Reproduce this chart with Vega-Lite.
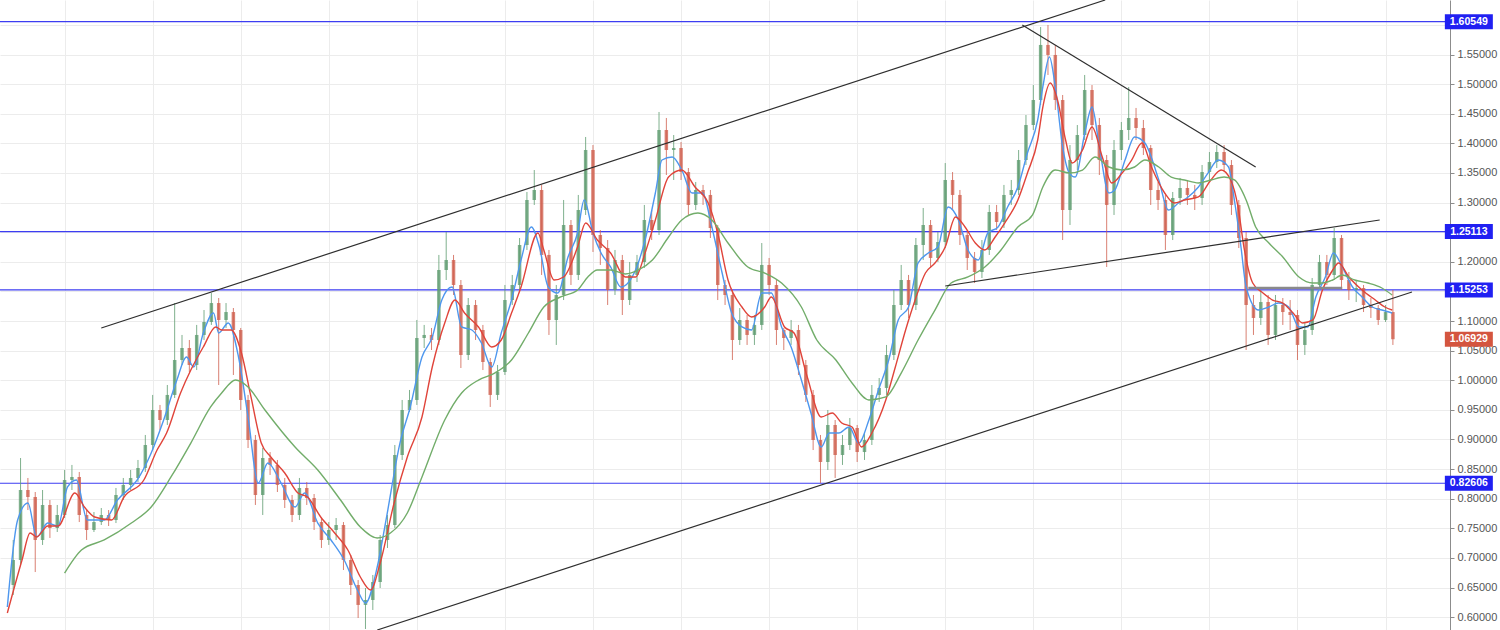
{
  "$schema": "https://vega.github.io/schema/vega-lite/v6.json",
  "width": 1450,
  "height": 630,
  "autosize": {"type": "none"},
  "padding": {"left": 0, "top": 0, "right": 50, "bottom": 0},
  "background": "white",
  "config": {
    "view": {"stroke": null},
    "font": "Liberation Sans",
    "axisX": {"labels": false, "ticks": false, "domain": false, "title": null, "grid": true, "gridColor": "#ececec"},
    "axisY": {"orient": "right", "title": null, "format": ".5f", "labelOverlap": false, "labelBound": false, "labelFlush": false,
              "grid": true, "gridColor": "#ececec", "domainColor": "#8c8c8c", "tickColor": "#8c8c8c", "tickSize": 4, "labelPadding": 3,
              "labelColor": "#555555", "labelFontSize": 11, "labelFont": "Liberation Sans"}
  },
  "resolve": {"scale": {"color": "independent"}},
  "datasets": {
    "k": [
      {"t":-7,"o":0.6543,"h":0.7303,"l":0.6374,"c":0.6965},
      {"t":-6,"o":0.6965,"h":0.8687,"l":0.6881,"c":0.8147},
      {"t":-5,"o":0.8147,"h":0.8350,"l":0.7809,"c":0.8029},
      {"t":-4,"o":0.8029,"h":0.8113,"l":0.6762,"c":0.7303},
      {"t":-3,"o":0.7303,"h":0.8147,"l":0.7219,"c":0.7894},
      {"t":-2,"o":0.7894,"h":0.7978,"l":0.7337,"c":0.7505},
      {"t":-1,"o":0.7505,"h":0.7894,"l":0.7438,"c":0.7725},
      {"t":0,"o":0.7725,"h":0.8485,"l":0.7674,"c":0.8316},
      {"t":1,"o":0.8316,"h":0.8570,"l":0.8147,"c":0.8367},
      {"t":2,"o":0.8367,"h":0.8451,"l":0.7606,"c":0.7725},
      {"t":3,"o":0.7725,"h":0.7809,"l":0.7303,"c":0.7472},
      {"t":4,"o":0.7472,"h":0.7775,"l":0.7438,"c":0.7606},
      {"t":5,"o":0.7606,"h":0.7843,"l":0.7556,"c":0.7725},
      {"t":6,"o":0.7725,"h":0.7809,"l":0.7539,"c":0.7640},
      {"t":7,"o":0.7640,"h":0.8181,"l":0.7589,"c":0.8063},
      {"t":8,"o":0.8063,"h":0.8350,"l":0.7978,"c":0.8232},
      {"t":9,"o":0.8232,"h":0.8485,"l":0.8147,"c":0.8350},
      {"t":10,"o":0.8350,"h":0.8654,"l":0.8282,"c":0.8519},
      {"t":11,"o":0.8519,"h":0.9076,"l":0.8451,"c":0.8907},
      {"t":12,"o":0.8907,"h":0.9752,"l":0.8822,"c":0.9498},
      {"t":13,"o":0.9498,"h":0.9583,"l":0.9160,"c":0.9329},
      {"t":14,"o":0.9329,"h":0.9920,"l":0.9245,"c":0.9752},
      {"t":15,"o":0.9752,"h":1.1304,"l":0.9701,"c":1.0342},
      {"t":16,"o":1.0342,"h":1.0765,"l":1.0258,"c":1.0545},
      {"t":17,"o":1.0545,"h":1.0680,"l":1.0139,"c":1.0258},
      {"t":18,"o":1.0258,"h":1.0934,"l":1.0173,"c":1.0765},
      {"t":19,"o":1.0765,"h":1.1186,"l":1.0680,"c":1.0984},
      {"t":20,"o":1.0984,"h":1.1473,"l":1.0934,"c":1.1304},
      {"t":21,"o":1.1304,"h":1.1389,"l":0.9920,"c":1.1018},
      {"t":22,"o":1.1018,"h":1.1304,"l":1.0883,"c":1.1152},
      {"t":23,"o":1.1152,"h":1.1220,"l":1.0089,"c":1.0849},
      {"t":24,"o":1.0849,"h":1.0883,"l":0.9498,"c":0.9667},
      {"t":25,"o":0.9667,"h":0.9752,"l":0.8856,"c":0.8991},
      {"t":26,"o":0.8991,"h":0.9076,"l":0.7894,"c":0.8063},
      {"t":27,"o":0.8063,"h":0.8856,"l":0.7725,"c":0.8687},
      {"t":28,"o":0.8687,"h":0.8788,"l":0.8401,"c":0.8570},
      {"t":29,"o":0.8570,"h":0.8654,"l":0.8113,"c":0.8232},
      {"t":30,"o":0.8232,"h":0.8350,"l":0.7843,"c":0.7978},
      {"t":31,"o":0.7978,"h":0.8063,"l":0.7606,"c":0.7725},
      {"t":32,"o":0.7725,"h":0.8350,"l":0.7640,"c":0.8181},
      {"t":33,"o":0.8181,"h":0.8282,"l":0.7894,"c":0.8012},
      {"t":34,"o":0.8012,"h":0.8079,"l":0.7472,"c":0.7606},
      {"t":35,"o":0.7606,"h":0.7674,"l":0.7168,"c":0.7303},
      {"t":36,"o":0.7303,"h":0.7606,"l":0.7219,"c":0.7472},
      {"t":37,"o":0.7472,"h":0.7674,"l":0.7303,"c":0.7556},
      {"t":38,"o":0.7556,"h":0.7606,"l":0.6796,"c":0.6965},
      {"t":39,"o":0.6965,"h":0.7050,"l":0.6374,"c":0.6543},
      {"t":40,"o":0.6543,"h":0.6627,"l":0.5986,"c":0.6206},
      {"t":41,"o":0.6206,"h":0.6492,"l":0.5800,"c":0.6290},
      {"t":42,"o":0.6290,"h":0.6712,"l":0.6121,"c":0.6593},
      {"t":43,"o":0.6593,"h":0.7387,"l":0.6492,"c":0.7303},
      {"t":44,"o":0.7303,"h":0.7725,"l":0.7168,"c":0.7556},
      {"t":45,"o":0.7556,"h":0.8907,"l":0.7505,"c":0.8738},
      {"t":46,"o":0.8738,"h":0.9667,"l":0.8654,"c":0.9498},
      {"t":47,"o":0.9498,"h":0.9836,"l":0.9464,"c":0.9667},
      {"t":48,"o":0.9667,"h":1.1018,"l":0.9583,"c":1.0714},
      {"t":49,"o":1.0714,"h":1.0934,"l":1.0545,"c":1.0765},
      {"t":50,"o":1.0765,"h":1.0883,"l":1.0511,"c":1.0680},
      {"t":51,"o":1.0680,"h":1.2116,"l":1.0596,"c":1.1862},
      {"t":52,"o":1.1862,"h":1.2503,"l":1.1693,"c":1.2031},
      {"t":53,"o":1.2031,"h":1.2116,"l":1.1440,"c":1.1609},
      {"t":54,"o":1.1609,"h":1.1693,"l":1.0207,"c":1.0427},
      {"t":55,"o":1.0427,"h":1.1389,"l":1.0342,"c":1.1271},
      {"t":56,"o":1.1271,"h":1.1355,"l":1.0680,"c":1.0849},
      {"t":57,"o":1.0849,"h":1.0934,"l":1.0173,"c":1.0308},
      {"t":58,"o":1.0308,"h":1.0376,"l":0.9549,"c":0.9752},
      {"t":59,"o":0.9752,"h":1.0258,"l":0.9667,"c":1.0139},
      {"t":60,"o":1.0139,"h":1.1609,"l":1.0089,"c":1.1355},
      {"t":61,"o":1.1355,"h":1.1778,"l":1.1271,"c":1.1609},
      {"t":62,"o":1.1609,"h":1.2402,"l":1.1524,"c":1.2284},
      {"t":63,"o":1.2284,"h":1.3179,"l":1.2200,"c":1.3044},
      {"t":64,"o":1.3044,"h":1.3550,"l":1.2960,"c":1.3213},
      {"t":65,"o":1.3213,"h":1.3298,"l":1.1778,"c":1.2116},
      {"t":66,"o":1.2116,"h":1.2200,"l":1.0765,"c":1.1018},
      {"t":67,"o":1.1018,"h":1.1609,"l":1.0596,"c":1.1440},
      {"t":68,"o":1.1440,"h":1.3044,"l":1.1355,"c":1.2622},
      {"t":69,"o":1.2622,"h":1.2706,"l":1.1609,"c":1.1778},
      {"t":70,"o":1.1778,"h":1.3129,"l":1.1693,"c":1.2875},
      {"t":71,"o":1.2875,"h":1.4108,"l":1.2791,"c":1.3888},
      {"t":72,"o":1.3888,"h":1.3972,"l":1.2166,"c":1.2453},
      {"t":73,"o":1.2453,"h":1.2537,"l":1.1947,"c":1.2233},
      {"t":74,"o":1.2233,"h":1.2368,"l":1.1271,"c":1.1524},
      {"t":75,"o":1.1524,"h":1.2200,"l":1.1440,"c":1.2031},
      {"t":76,"o":1.2031,"h":1.2116,"l":1.1102,"c":1.1355},
      {"t":77,"o":1.1355,"h":1.1997,"l":1.1271,"c":1.1778},
      {"t":78,"o":1.1778,"h":1.2116,"l":1.1659,"c":1.1997},
      {"t":79,"o":1.1997,"h":1.2960,"l":1.1896,"c":1.2706},
      {"t":80,"o":1.2706,"h":1.2875,"l":1.2368,"c":1.2537},
      {"t":81,"o":1.2537,"h":1.4530,"l":1.2453,"c":1.4226},
      {"t":82,"o":1.4226,"h":1.4429,"l":1.3466,"c":1.3888},
      {"t":83,"o":1.3888,"h":1.4141,"l":1.3382,"c":1.3922},
      {"t":84,"o":1.3922,"h":1.4023,"l":1.3382,"c":1.3516},
      {"t":85,"o":1.3516,"h":1.3584,"l":1.2791,"c":1.2960},
      {"t":86,"o":1.2960,"h":1.3348,"l":1.2875,"c":1.3213},
      {"t":87,"o":1.3213,"h":1.3298,"l":1.2960,"c":1.3129},
      {"t":88,"o":1.3129,"h":1.3213,"l":1.2402,"c":1.2571},
      {"t":89,"o":1.2571,"h":1.2622,"l":1.1355,"c":1.1609},
      {"t":90,"o":1.1609,"h":1.1693,"l":1.1271,"c":1.1440},
      {"t":91,"o":1.1440,"h":1.1524,"l":1.0342,"c":1.0680},
      {"t":92,"o":1.0680,"h":1.1220,"l":1.0596,"c":1.1018},
      {"t":93,"o":1.1018,"h":1.1102,"l":1.0596,"c":1.0765},
      {"t":94,"o":1.0765,"h":1.1102,"l":1.0596,"c":1.0934},
      {"t":95,"o":1.0934,"h":1.2317,"l":1.0849,"c":1.1947},
      {"t":96,"o":1.1947,"h":1.2065,"l":1.1440,"c":1.1609},
      {"t":97,"o":1.1609,"h":1.1693,"l":1.0596,"c":1.0849},
      {"t":98,"o":1.0849,"h":1.0883,"l":1.0511,"c":1.0714},
      {"t":99,"o":1.0714,"h":1.1018,"l":1.0596,"c":1.0849},
      {"t":100,"o":1.0849,"h":1.0934,"l":1.0089,"c":1.0258},
      {"t":101,"o":1.0258,"h":1.0342,"l":0.9633,"c":0.9752},
      {"t":102,"o":0.9752,"h":0.9836,"l":0.8822,"c":0.8991},
      {"t":103,"o":0.8991,"h":0.9076,"l":0.8265,"c":0.8620},
      {"t":104,"o":0.8620,"h":0.9498,"l":0.8485,"c":0.9245},
      {"t":105,"o":0.9245,"h":0.9329,"l":0.8350,"c":0.8738},
      {"t":106,"o":0.8738,"h":0.9076,"l":0.8570,"c":0.8907},
      {"t":107,"o":0.8907,"h":0.9363,"l":0.8822,"c":0.9194},
      {"t":108,"o":0.9194,"h":0.9245,"l":0.8620,"c":0.8788},
      {"t":109,"o":0.8788,"h":0.9126,"l":0.8654,"c":0.8991},
      {"t":110,"o":0.8991,"h":0.9920,"l":0.8907,"c":0.9752},
      {"t":111,"o":0.9752,"h":1.0038,"l":0.9633,"c":0.9870},
      {"t":112,"o":0.9870,"h":1.0596,"l":0.9752,"c":1.0427},
      {"t":113,"o":1.0427,"h":1.1524,"l":1.0342,"c":1.1271},
      {"t":114,"o":1.1271,"h":1.1947,"l":1.1186,"c":1.1693},
      {"t":115,"o":1.1693,"h":1.1778,"l":1.1052,"c":1.1271},
      {"t":116,"o":1.1271,"h":1.2402,"l":1.1186,"c":1.2284},
      {"t":117,"o":1.2284,"h":1.2909,"l":1.2031,"c":1.2622},
      {"t":118,"o":1.2622,"h":1.2706,"l":1.1896,"c":1.2065},
      {"t":119,"o":1.2065,"h":1.2503,"l":1.1997,"c":1.2334},
      {"t":120,"o":1.2334,"h":1.3668,"l":1.2233,"c":1.3382},
      {"t":121,"o":1.3382,"h":1.3516,"l":1.2875,"c":1.3129},
      {"t":122,"o":1.3129,"h":1.3213,"l":1.2284,"c":1.2453},
      {"t":123,"o":1.2453,"h":1.2537,"l":1.1862,"c":1.2065},
      {"t":124,"o":1.2065,"h":1.2166,"l":1.1642,"c":1.1828},
      {"t":125,"o":1.1828,"h":1.2368,"l":1.1727,"c":1.2200},
      {"t":126,"o":1.2200,"h":1.2960,"l":1.2116,"c":1.2841},
      {"t":127,"o":1.2841,"h":1.2960,"l":1.2537,"c":1.2672},
      {"t":128,"o":1.2672,"h":1.3298,"l":1.2571,"c":1.3129},
      {"t":129,"o":1.3129,"h":1.3382,"l":1.2960,"c":1.3213},
      {"t":130,"o":1.3213,"h":1.3888,"l":1.3129,"c":1.3719},
      {"t":131,"o":1.3719,"h":1.4479,"l":1.3635,"c":1.4310},
      {"t":132,"o":1.4310,"h":1.4985,"l":1.4226,"c":1.4732},
      {"t":133,"o":1.4732,"h":1.5965,"l":1.4648,"c":1.5662},
      {"t":134,"o":1.5662,"h":1.5999,"l":1.5155,"c":1.5493},
      {"t":135,"o":1.5493,"h":1.5662,"l":1.4564,"c":1.4732},
      {"t":136,"o":1.4732,"h":1.4817,"l":1.2368,"c":1.2875},
      {"t":137,"o":1.2875,"h":1.3972,"l":1.2622,"c":1.3719},
      {"t":138,"o":1.3719,"h":1.4310,"l":1.3550,"c":1.4141},
      {"t":139,"o":1.4141,"h":1.5155,"l":1.4057,"c":1.4901},
      {"t":140,"o":1.4901,"h":1.4985,"l":1.4057,"c":1.4310},
      {"t":141,"o":1.4310,"h":1.4429,"l":1.3466,"c":1.3719},
      {"t":142,"o":1.3719,"h":1.3804,"l":1.1913,"c":1.2960},
      {"t":143,"o":1.2960,"h":1.4057,"l":1.2791,"c":1.3888},
      {"t":144,"o":1.3888,"h":1.4361,"l":1.3719,"c":1.4226},
      {"t":145,"o":1.4226,"h":1.4952,"l":1.4057,"c":1.4429},
      {"t":146,"o":1.4429,"h":1.4598,"l":1.4057,"c":1.4260},
      {"t":147,"o":1.4260,"h":1.4395,"l":1.3804,"c":1.3922},
      {"t":148,"o":1.3922,"h":1.3972,"l":1.2960,"c":1.3213},
      {"t":149,"o":1.3213,"h":1.3348,"l":1.2875,"c":1.3044},
      {"t":150,"o":1.3044,"h":1.3129,"l":1.2200,"c":1.2453},
      {"t":151,"o":1.2453,"h":1.3179,"l":1.2368,"c":1.3078},
      {"t":152,"o":1.3078,"h":1.3416,"l":1.2960,"c":1.3247},
      {"t":153,"o":1.3247,"h":1.3382,"l":1.2960,"c":1.3129},
      {"t":154,"o":1.3129,"h":1.3298,"l":1.2875,"c":1.3078},
      {"t":155,"o":1.3078,"h":1.3635,"l":1.2960,"c":1.3516},
      {"t":156,"o":1.3516,"h":1.3854,"l":1.3382,"c":1.3685},
      {"t":157,"o":1.3685,"h":1.3972,"l":1.3584,"c":1.3854},
      {"t":158,"o":1.3854,"h":1.3972,"l":1.3516,"c":1.3635},
      {"t":159,"o":1.3635,"h":1.3719,"l":1.2791,"c":1.2960},
      {"t":160,"o":1.2960,"h":1.3044,"l":1.2233,"c":1.2402},
      {"t":161,"o":1.2402,"h":1.2503,"l":1.0511,"c":1.1271},
      {"t":162,"o":1.1271,"h":1.1440,"l":1.0765,"c":1.1052},
      {"t":163,"o":1.1052,"h":1.1524,"l":1.0934,"c":1.1321},
      {"t":164,"o":1.1321,"h":1.1440,"l":1.0596,"c":1.0765},
      {"t":165,"o":1.0765,"h":1.1440,"l":1.0680,"c":1.1271},
      {"t":166,"o":1.1271,"h":1.1389,"l":1.0934,"c":1.1152},
      {"t":167,"o":1.1152,"h":1.1355,"l":1.0849,"c":1.1102},
      {"t":168,"o":1.1102,"h":1.1186,"l":1.0342,"c":1.0596},
      {"t":169,"o":1.0596,"h":1.0984,"l":1.0427,"c":1.0849},
      {"t":170,"o":1.0849,"h":1.1727,"l":1.0765,"c":1.1609},
      {"t":171,"o":1.1609,"h":1.2116,"l":1.1524,"c":1.1997},
      {"t":172,"o":1.1997,"h":1.2116,"l":1.1609,"c":1.1778},
      {"t":173,"o":1.1778,"h":1.2571,"l":1.1693,"c":1.2402},
      {"t":174,"o":1.2402,"h":1.2453,"l":1.1524,"c":1.1693},
      {"t":175,"o":1.1693,"h":1.1828,"l":1.1355,"c":1.1524},
      {"t":176,"o":1.1524,"h":1.1693,"l":1.1321,"c":1.1558},
      {"t":177,"o":1.1558,"h":1.1609,"l":1.1152,"c":1.1271},
      {"t":178,"o":1.1271,"h":1.1389,"l":1.1052,"c":1.1220},
      {"t":179,"o":1.1220,"h":1.1271,"l":1.0934,"c":1.1018},
      {"t":180,"o":1.1018,"h":1.1271,"l":1.0984,"c":1.1152},
      {"t":181,"o":1.1152,"h":1.1524,"l":1.0596,"c":1.0693}
    ],
    "m": [
      {"s":"b","t":-7.8,"v":0.6172},{"s":"b","t":-6.4,"v":0.7640},{"s":"b","t":-5.0,"v":0.7927},{"s":"b","t":-3.8,"v":0.7354},{"s":"b","t":-2.3,"v":0.7589},{"s":"b","t":-0.9,"v":0.7539},{"s":"b","t":0.4,"v":0.8198},{"s":"b","t":1.6,"v":0.8316},{"s":"b","t":3.1,"v":0.7640},{"s":"b","t":5.4,"v":0.7640},{"s":"b","t":7.2,"v":0.7978},{"s":"b","t":9.9,"v":0.8316},{"s":"b","t":11.8,"v":0.8771},{"s":"b","t":13.5,"v":0.9329},{"s":"b","t":15.3,"v":1.0004},{"s":"b","t":16.6,"v":1.0393},{"s":"b","t":17.6,"v":1.0224},{"s":"b","t":18.9,"v":1.0798},{"s":"b","t":20.3,"v":1.1135},{"s":"b","t":21.0,"v":1.0798},{"s":"b","t":22.3,"v":1.0967},{"s":"b","t":23.7,"v":1.0393},{"s":"b","t":25.0,"v":0.9380},{"s":"b","t":26.4,"v":0.8265},{"s":"b","t":27.7,"v":0.8603},{"s":"b","t":29.5,"v":0.8265},{"s":"b","t":31.4,"v":0.7860},{"s":"b","t":32.7,"v":0.8096},{"s":"b","t":34.5,"v":0.7589},{"s":"b","t":36.3,"v":0.7303},{"s":"b","t":38.1,"v":0.6965},{"s":"b","t":39.9,"v":0.6458},{"s":"b","t":41.0,"v":0.6239},{"s":"b","t":42.6,"v":0.6847},{"s":"b","t":43.8,"v":0.7640},{"s":"b","t":45.7,"v":0.8940},{"s":"b","t":47.1,"v":0.9549},{"s":"b","t":48.7,"v":1.0393},{"s":"b","t":50.1,"v":1.0731},{"s":"b","t":51.4,"v":1.1355},{"s":"b","t":52.8,"v":1.1575},{"s":"b","t":54.1,"v":1.0900},{"s":"b","t":55.5,"v":1.0849},{"s":"b","t":56.8,"v":1.0629},{"s":"b","t":58.2,"v":1.0224},{"s":"b","t":59.5,"v":1.0798},{"s":"b","t":60.9,"v":1.1355},{"s":"b","t":62.2,"v":1.2031},{"s":"b","t":63.6,"v":1.2588},{"s":"b","t":64.7,"v":1.2250},{"s":"b","t":65.9,"v":1.1575},{"s":"b","t":67.2,"v":1.1473},{"s":"b","t":68.6,"v":1.2082},{"s":"b","t":69.9,"v":1.2486},{"s":"b","t":70.8,"v":1.3044},{"s":"b","t":72.0,"v":1.2486},{"s":"b","t":73.1,"v":1.2149},{"s":"b","t":74.4,"v":1.1913},{"s":"b","t":75.8,"v":1.1575},{"s":"b","t":77.8,"v":1.1862},{"s":"b","t":79.1,"v":1.2368},{"s":"b","t":80.5,"v":1.3162},{"s":"b","t":81.4,"v":1.3719},{"s":"b","t":82.8,"v":1.3770},{"s":"b","t":84.1,"v":1.3550},{"s":"b","t":85.5,"v":1.3162},{"s":"b","t":86.9,"v":1.3162},{"s":"b","t":88.2,"v":1.2588},{"s":"b","t":89.6,"v":1.1811},{"s":"b","t":90.9,"v":1.1135},{"s":"b","t":92.3,"v":1.0900},{"s":"b","t":93.6,"v":1.0849},{"s":"b","t":95.0,"v":1.1473},{"s":"b","t":96.3,"v":1.1473},{"s":"b","t":97.7,"v":1.0900},{"s":"b","t":99.0,"v":1.0562},{"s":"b","t":100.4,"v":1.0004},{"s":"b","t":101.7,"v":0.9447},{"s":"b","t":103.1,"v":0.8873},{"s":"b","t":104.2,"v":0.9109},{"s":"b","t":105.5,"v":0.9109},{"s":"b","t":106.9,"v":0.9211},{"s":"b","t":108.2,"v":0.8940},{"s":"b","t":109.6,"v":0.9329},{"s":"b","t":110.9,"v":0.9836},{"s":"b","t":112.3,"v":1.0342},{"s":"b","t":113.6,"v":1.1018},{"s":"b","t":115.0,"v":1.1237},{"s":"b","t":116.3,"v":1.1980},{"s":"b","t":117.7,"v":1.2149},{"s":"b","t":119.0,"v":1.2250},{"s":"b","t":120.4,"v":1.2926},{"s":"b","t":121.8,"v":1.2706},{"s":"b","t":123.1,"v":1.2200},{"s":"b","t":124.5,"v":1.2031},{"s":"b","t":125.8,"v":1.2486},{"s":"b","t":127.2,"v":1.2588},{"s":"b","t":128.5,"v":1.2926},{"s":"b","t":129.9,"v":1.3264},{"s":"b","t":131.2,"v":1.3837},{"s":"b","t":132.6,"v":1.4395},{"s":"b","t":133.3,"v":1.4952},{"s":"b","t":134.2,"v":1.5459},{"s":"b","t":135.0,"v":1.4952},{"s":"b","t":136.0,"v":1.3939},{"s":"b","t":136.9,"v":1.3499},{"s":"b","t":137.7,"v":1.3432},{"s":"b","t":139.1,"v":1.4226},{"s":"b","t":140.0,"v":1.4614},{"s":"b","t":141.0,"v":1.3939},{"s":"b","t":142.3,"v":1.3162},{"s":"b","t":143.1,"v":1.3213},{"s":"b","t":144.5,"v":1.3719},{"s":"b","t":145.8,"v":1.4108},{"s":"b","t":147.2,"v":1.4006},{"s":"b","t":149.1,"v":1.3382},{"s":"b","t":150.4,"v":1.2875},{"s":"b","t":151.8,"v":1.2993},{"s":"b","t":153.1,"v":1.3095},{"s":"b","t":154.5,"v":1.3264},{"s":"b","t":155.8,"v":1.3499},{"s":"b","t":157.2,"v":1.3719},{"s":"b","t":158.6,"v":1.3601},{"s":"b","t":159.4,"v":1.3044},{"s":"b","t":160.3,"v":1.2250},{"s":"b","t":161.0,"v":1.1575},{"s":"b","t":162.7,"v":1.1186},{"s":"b","t":164.1,"v":1.1237},{"s":"b","t":165.4,"v":1.1304},{"s":"b","t":166.8,"v":1.1237},{"s":"b","t":168.2,"v":1.0900},{"s":"b","t":169.4,"v":1.0900},{"s":"b","t":170.5,"v":1.1406},{"s":"b","t":171.8,"v":1.1744},{"s":"b","t":172.9,"v":1.2149},{"s":"b","t":174.1,"v":1.1913},{"s":"b","t":175.5,"v":1.1575},{"s":"b","t":176.8,"v":1.1406},{"s":"b","t":178.2,"v":1.1237},{"s":"b","t":179.5,"v":1.1186},{"s":"b","t":180.9,"v":1.1135},
      {"s":"r","t":-7.8,"v":0.6070},{"s":"r","t":-5.8,"v":0.6965},{"s":"r","t":-4.7,"v":0.7421},{"s":"r","t":-3.8,"v":0.7354},{"s":"r","t":-2.3,"v":0.7539},{"s":"r","t":-0.9,"v":0.7539},{"s":"r","t":1.4,"v":0.8096},{"s":"r","t":2.7,"v":0.7860},{"s":"r","t":4.1,"v":0.7691},{"s":"r","t":6.4,"v":0.7640},{"s":"r","t":8.1,"v":0.8029},{"s":"r","t":10.8,"v":0.8316},{"s":"r","t":12.6,"v":0.8822},{"s":"r","t":13.9,"v":0.9109},{"s":"r","t":15.8,"v":0.9785},{"s":"r","t":17.2,"v":1.0173},{"s":"r","t":18.9,"v":1.0562},{"s":"r","t":20.6,"v":1.0900},{"s":"r","t":21.4,"v":1.0849},{"s":"r","t":22.7,"v":1.0849},{"s":"r","t":24.1,"v":1.0460},{"s":"r","t":25.4,"v":0.9718},{"s":"r","t":26.8,"v":0.8940},{"s":"r","t":28.1,"v":0.8704},{"s":"r","t":30.0,"v":0.8434},{"s":"r","t":31.8,"v":0.8096},{"s":"r","t":33.1,"v":0.8029},{"s":"r","t":34.9,"v":0.7691},{"s":"r","t":36.8,"v":0.7421},{"s":"r","t":38.6,"v":0.7134},{"s":"r","t":40.3,"v":0.6678},{"s":"r","t":41.7,"v":0.6458},{"s":"r","t":43.0,"v":0.6914},{"s":"r","t":44.9,"v":0.7927},{"s":"r","t":46.7,"v":0.8704},{"s":"r","t":48.7,"v":0.9380},{"s":"r","t":50.1,"v":1.0224},{"s":"r","t":51.8,"v":1.0967},{"s":"r","t":53.2,"v":1.1355},{"s":"r","t":54.5,"v":1.1135},{"s":"r","t":56.4,"v":1.0900},{"s":"r","t":58.2,"v":1.0562},{"s":"r","t":59.5,"v":1.0680},{"s":"r","t":60.9,"v":1.1135},{"s":"r","t":62.2,"v":1.1575},{"s":"r","t":64.5,"v":1.2486},{"s":"r","t":65.3,"v":1.2200},{"s":"r","t":66.7,"v":1.1693},{"s":"r","t":68.0,"v":1.1744},{"s":"r","t":69.9,"v":1.2250},{"s":"r","t":71.0,"v":1.2655},{"s":"r","t":72.6,"v":1.2368},{"s":"r","t":74.4,"v":1.2149},{"s":"r","t":76.4,"v":1.1744},{"s":"r","t":77.8,"v":1.1744},{"s":"r","t":79.1,"v":1.2149},{"s":"r","t":80.5,"v":1.2706},{"s":"r","t":82.3,"v":1.3432},{"s":"r","t":84.1,"v":1.3550},{"s":"r","t":85.9,"v":1.3264},{"s":"r","t":87.7,"v":1.2993},{"s":"r","t":89.0,"v":1.2486},{"s":"r","t":90.4,"v":1.1693},{"s":"r","t":92.3,"v":1.1237},{"s":"r","t":93.6,"v":1.1068},{"s":"r","t":95.4,"v":1.1237},{"s":"r","t":96.3,"v":1.1406},{"s":"r","t":98.1,"v":1.0900},{"s":"r","t":99.4,"v":1.0798},{"s":"r","t":101.2,"v":1.0055},{"s":"r","t":103.1,"v":0.9380},{"s":"r","t":104.6,"v":0.9447},{"s":"r","t":105.9,"v":0.9278},{"s":"r","t":107.3,"v":0.9211},{"s":"r","t":108.6,"v":0.8873},{"s":"r","t":110.0,"v":0.9109},{"s":"r","t":111.9,"v":0.9667},{"s":"r","t":113.2,"v":1.0224},{"s":"r","t":114.6,"v":1.0849},{"s":"r","t":115.9,"v":1.1355},{"s":"r","t":117.3,"v":1.1811},{"s":"r","t":118.6,"v":1.1980},{"s":"r","t":120.0,"v":1.2250},{"s":"r","t":121.4,"v":1.2757},{"s":"r","t":122.7,"v":1.2588},{"s":"r","t":124.1,"v":1.2318},{"s":"r","t":125.4,"v":1.2200},{"s":"r","t":126.8,"v":1.2419},{"s":"r","t":128.1,"v":1.2655},{"s":"r","t":129.9,"v":1.3044},{"s":"r","t":131.2,"v":1.3499},{"s":"r","t":132.6,"v":1.4057},{"s":"r","t":133.3,"v":1.4614},{"s":"r","t":134.3,"v":1.5019},{"s":"r","t":135.3,"v":1.4732},{"s":"r","t":136.4,"v":1.4057},{"s":"r","t":137.3,"v":1.3668},{"s":"r","t":138.7,"v":1.3888},{"s":"r","t":140.0,"v":1.4277},{"s":"r","t":141.4,"v":1.3770},{"s":"r","t":142.7,"v":1.3331},{"s":"r","t":144.1,"v":1.3499},{"s":"r","t":145.4,"v":1.3719},{"s":"r","t":146.8,"v":1.4006},{"s":"r","t":148.1,"v":1.3601},{"s":"r","t":149.9,"v":1.3162},{"s":"r","t":151.2,"v":1.2993},{"s":"r","t":152.6,"v":1.3044},{"s":"r","t":154.5,"v":1.3095},{"s":"r","t":156.2,"v":1.3382},{"s":"r","t":157.6,"v":1.3550},{"s":"r","t":158.9,"v":1.3382},{"s":"r","t":159.9,"v":1.2926},{"s":"r","t":160.7,"v":1.2250},{"s":"r","t":161.9,"v":1.1642},{"s":"r","t":163.3,"v":1.1473},{"s":"r","t":164.6,"v":1.1355},{"s":"r","t":166.0,"v":1.1304},{"s":"r","t":167.4,"v":1.1135},{"s":"r","t":168.7,"v":1.0967},{"s":"r","t":170.1,"v":1.1018},{"s":"r","t":171.4,"v":1.1524},{"s":"r","t":172.8,"v":1.1862},{"s":"r","t":173.6,"v":1.1980},{"s":"r","t":175.0,"v":1.1744},{"s":"r","t":176.8,"v":1.1524},{"s":"r","t":178.6,"v":1.1355},{"s":"r","t":179.9,"v":1.1237},{"s":"r","t":180.9,"v":1.1186},
      {"s":"g","t":0.0,"v":0.6744},{"s":"g","t":2.3,"v":0.7134},{"s":"g","t":5.4,"v":0.7303},{"s":"g","t":9.1,"v":0.7589},{"s":"g","t":11.8,"v":0.7860},{"s":"g","t":14.5,"v":0.8367},{"s":"g","t":17.2,"v":0.8940},{"s":"g","t":19.9,"v":0.9549},{"s":"g","t":21.4,"v":0.9785},{"s":"g","t":23.3,"v":1.0004},{"s":"g","t":25.0,"v":0.9886},{"s":"g","t":27.3,"v":0.9498},{"s":"g","t":31.4,"v":0.8873},{"s":"g","t":34.5,"v":0.8485},{"s":"g","t":37.6,"v":0.7978},{"s":"g","t":40.3,"v":0.7522},{"s":"g","t":42.6,"v":0.7337},{"s":"g","t":44.4,"v":0.7421},{"s":"g","t":46.7,"v":0.7759},{"s":"g","t":48.7,"v":0.8367},{"s":"g","t":51.8,"v":0.9329},{"s":"g","t":54.1,"v":0.9785},{"s":"g","t":56.4,"v":1.0004},{"s":"g","t":58.6,"v":1.0122},{"s":"g","t":60.9,"v":1.0342},{"s":"g","t":63.2,"v":1.0798},{"s":"g","t":65.3,"v":1.1237},{"s":"g","t":67.6,"v":1.1406},{"s":"g","t":69.9,"v":1.1524},{"s":"g","t":71.3,"v":1.1744},{"s":"g","t":72.6,"v":1.1862},{"s":"g","t":74.4,"v":1.1862},{"s":"g","t":76.4,"v":1.1795},{"s":"g","t":78.2,"v":1.1862},{"s":"g","t":80.1,"v":1.2031},{"s":"g","t":82.3,"v":1.2419},{"s":"g","t":84.1,"v":1.2706},{"s":"g","t":86.3,"v":1.2824},{"s":"g","t":88.2,"v":1.2706},{"s":"g","t":90.4,"v":1.2318},{"s":"g","t":93.1,"v":1.1913},{"s":"g","t":95.4,"v":1.1811},{"s":"g","t":97.7,"v":1.1642},{"s":"g","t":100.4,"v":1.1237},{"s":"g","t":102.5,"v":1.0680},{"s":"g","t":105.1,"v":1.0342},{"s":"g","t":107.3,"v":0.9954},{"s":"g","t":109.6,"v":0.9667},{"s":"g","t":111.9,"v":0.9718},{"s":"g","t":114.0,"v":1.0122},{"s":"g","t":116.3,"v":1.0680},{"s":"g","t":118.6,"v":1.1186},{"s":"g","t":120.8,"v":1.1642},{"s":"g","t":123.1,"v":1.1744},{"s":"g","t":125.4,"v":1.1913},{"s":"g","t":127.6,"v":1.2200},{"s":"g","t":129.9,"v":1.2588},{"s":"g","t":131.9,"v":1.2791},{"s":"g","t":133.3,"v":1.3264},{"s":"g","t":135.0,"v":1.3550},{"s":"g","t":136.9,"v":1.3499},{"s":"g","t":138.7,"v":1.3550},{"s":"g","t":140.4,"v":1.3770},{"s":"g","t":142.3,"v":1.3601},{"s":"g","t":144.1,"v":1.3550},{"s":"g","t":145.8,"v":1.3601},{"s":"g","t":147.2,"v":1.3719},{"s":"g","t":149.1,"v":1.3601},{"s":"g","t":150.8,"v":1.3432},{"s":"g","t":152.6,"v":1.3382},{"s":"g","t":154.5,"v":1.3331},{"s":"g","t":156.2,"v":1.3382},{"s":"g","t":158.0,"v":1.3432},{"s":"g","t":159.4,"v":1.3382},{"s":"g","t":161.0,"v":1.3044},{"s":"g","t":162.3,"v":1.2588},{"s":"g","t":164.1,"v":1.2318},{"s":"g","t":166.0,"v":1.2082},{"s":"g","t":168.2,"v":1.1744},{"s":"g","t":170.1,"v":1.1642},{"s":"g","t":171.4,"v":1.1642},{"s":"g","t":172.8,"v":1.1693},{"s":"g","t":174.1,"v":1.1777},{"s":"g","t":175.8,"v":1.1693},{"s":"g","t":177.6,"v":1.1642},{"s":"g","t":179.5,"v":1.1558},{"s":"g","t":180.9,"v":1.1440}
    ],
    "tr": [
      {"id":"a","t":5.0,"v":1.0883},{"id":"a","t":141.8,"v":1.6421},
      {"id":"b","t":42.6,"v":0.5783},{"id":"b","t":183.6,"v":1.1490},
      {"id":"c","t":130.5,"v":1.5999},{"id":"c","t":162.3,"v":1.3601},
      {"id":"d","t":120.0,"v":1.1592},{"id":"d","t":179.2,"v":1.2706}
    ],
    "sg": [
      {"t":161.3,"v":1.1558},{"t":174.1,"v":1.1558}
    ],
    "lv": [
      {"v":1.60549,"label":"1.60549","kind":"lvl"},
      {"v":1.25113,"label":"1.25113","kind":"lvl"},
      {"v":1.15253,"label":"1.15253","kind":"lvl"},
      {"v":0.82606,"label":"0.82606","kind":"lvl"},
      {"v":1.06929,"label":"1.06929","kind":"last"}
    ]
  },
  "layer": [
    {
      "data": {"name": "lv"},
      "transform": [{"filter": "datum.kind == 'lvl'"}],
      "mark": {"type": "rule", "color": "#3d3df2", "strokeWidth": 1.2},
      "encoding": {
        "y": {"field": "v", "type": "quantitative", "title": null, "scale": {"domain": [0.5783, 1.6421], "nice": false, "zero": false},
              "axis": {"values": [0.6,0.65,0.7,0.75,0.8,0.85,0.9,0.95,1.0,1.05,1.1,1.15,1.2,1.25,1.3,1.35,1.4,1.45,1.5,1.55,1.6], "labelExpr": "(abs(datum.value-1.15)<0.001 || abs(datum.value-1.25)<0.001 || abs(datum.value-1.6)<0.001) ? '' : datum.label"}}
      }
    },
    {
      "data": {"name": "k"},
      "mark": {"type": "rule", "strokeWidth": 1, "opacity": 0.8},
      "encoding": {
        "x": {"field": "t", "type": "quantitative", "title": null, "scale": {"domain": [-8.12, 188.1], "nice": false, "zero": false},
              "axis": {"values": [0,12,24,36,48,60,72,84,96,108,120,132,144,156,168,180]}},
        "y": {"field": "l", "type": "quantitative", "title": null, "scale": {"domain": [0.5783, 1.6421], "nice": false, "zero": false},
              "axis": {"values": [0.6,0.65,0.7,0.75,0.8,0.85,0.9,0.95,1.0,1.05,1.1,1.15,1.2,1.25,1.3,1.35,1.4,1.45,1.5,1.55,1.6], "labelExpr": "(abs(datum.value-1.15)<0.001 || abs(datum.value-1.25)<0.001 || abs(datum.value-1.6)<0.001) ? '' : datum.label"}},
        "y2": {"field": "h"},
        "color": {"condition": {"test": "datum.c >= datum.o", "value": "#5f9c70"}, "value": "#d0604f"}
      }
    },
    {
      "data": {"name": "k"},
      "mark": {"type": "bar", "size": 3.5, "opacity": 0.8},
      "encoding": {
        "x": {"field": "t", "type": "quantitative", "title": null, "scale": {"domain": [-8.12, 188.1], "nice": false, "zero": false},
              "axis": {"values": [0,12,24,36,48,60,72,84,96,108,120,132,144,156,168,180]}},
        "y": {"field": "o", "type": "quantitative", "title": null, "scale": {"domain": [0.5783, 1.6421], "nice": false, "zero": false},
              "axis": {"values": [0.6,0.65,0.7,0.75,0.8,0.85,0.9,0.95,1.0,1.05,1.1,1.15,1.2,1.25,1.3,1.35,1.4,1.45,1.5,1.55,1.6], "labelExpr": "(abs(datum.value-1.15)<0.001 || abs(datum.value-1.25)<0.001 || abs(datum.value-1.6)<0.001) ? '' : datum.label"}},
        "y2": {"field": "c"},
        "color": {"condition": {"test": "datum.c >= datum.o", "value": "#5f9c70"}, "value": "#d0604f"}
      }
    },
    {
      "data": {"name": "m"},
      "mark": {"type": "line", "strokeWidth": 1.4, "interpolate": "monotone"},
      "encoding": {
        "x": {"field": "t", "type": "quantitative", "title": null, "scale": {"domain": [-8.12, 188.1], "nice": false, "zero": false},
              "axis": {"values": [0,12,24,36,48,60,72,84,96,108,120,132,144,156,168,180]}},
        "y": {"field": "v", "type": "quantitative", "title": null, "scale": {"domain": [0.5783, 1.6421], "nice": false, "zero": false},
              "axis": {"values": [0.6,0.65,0.7,0.75,0.8,0.85,0.9,0.95,1.0,1.05,1.1,1.15,1.2,1.25,1.3,1.35,1.4,1.45,1.5,1.55,1.6], "labelExpr": "(abs(datum.value-1.15)<0.001 || abs(datum.value-1.25)<0.001 || abs(datum.value-1.6)<0.001) ? '' : datum.label"}},
        "color": {"field": "s", "type": "nominal", "scale": {"domain": ["b", "r", "g"], "range": ["#4e97ee", "#e0443a", "#72ad6a"]}, "legend": null}
      }
    },
    {
      "data": {"name": "tr"},
      "mark": {"type": "line", "color": "#2e2e2e", "strokeWidth": 1.2, "clip": true},
      "encoding": {
        "x": {"field": "t", "type": "quantitative", "title": null, "scale": {"domain": [-8.12, 188.1], "nice": false, "zero": false},
              "axis": {"values": [0,12,24,36,48,60,72,84,96,108,120,132,144,156,168,180]}},
        "y": {"field": "v", "type": "quantitative", "title": null, "scale": {"domain": [0.5783, 1.6421], "nice": false, "zero": false},
              "axis": {"values": [0.6,0.65,0.7,0.75,0.8,0.85,0.9,0.95,1.0,1.05,1.1,1.15,1.2,1.25,1.3,1.35,1.4,1.45,1.5,1.55,1.6], "labelExpr": "(abs(datum.value-1.15)<0.001 || abs(datum.value-1.25)<0.001 || abs(datum.value-1.6)<0.001) ? '' : datum.label"}},
        "detail": {"field": "id", "type": "nominal"}
      }
    },
    {
      "data": {"name": "sg"},
      "mark": {"type": "line", "color": "#8a8a8a", "strokeWidth": 2.5},
      "encoding": {
        "x": {"field": "t", "type": "quantitative", "title": null, "scale": {"domain": [-8.12, 188.1], "nice": false, "zero": false},
              "axis": {"values": [0,12,24,36,48,60,72,84,96,108,120,132,144,156,168,180]}},
        "y": {"field": "v", "type": "quantitative", "title": null, "scale": {"domain": [0.5783, 1.6421], "nice": false, "zero": false},
              "axis": {"values": [0.6,0.65,0.7,0.75,0.8,0.85,0.9,0.95,1.0,1.05,1.1,1.15,1.2,1.25,1.3,1.35,1.4,1.45,1.5,1.55,1.6], "labelExpr": "(abs(datum.value-1.15)<0.001 || abs(datum.value-1.25)<0.001 || abs(datum.value-1.6)<0.001) ? '' : datum.label"}}
      }
    },
    {
      "data": {"name": "lv"},
      "mark": {"type": "tick", "orient": "horizontal", "size": 48, "thickness": 15, "opacity": 1},
      "encoding": {
        "x": {"datum": 191.35, "type": "quantitative", "title": null, "scale": {"domain": [-8.12, 188.1], "nice": false, "zero": false},
              "axis": {"values": [0,12,24,36,48,60,72,84,96,108,120,132,144,156,168,180]}},
        "y": {"field": "v", "type": "quantitative", "title": null, "scale": {"domain": [0.5783, 1.6421], "nice": false, "zero": false},
              "axis": {"values": [0.6,0.65,0.7,0.75,0.8,0.85,0.9,0.95,1.0,1.05,1.1,1.15,1.2,1.25,1.3,1.35,1.4,1.45,1.5,1.55,1.6], "labelExpr": "(abs(datum.value-1.15)<0.001 || abs(datum.value-1.25)<0.001 || abs(datum.value-1.6)<0.001) ? '' : datum.label"}},
        "color": {"field": "kind", "type": "nominal", "scale": {"domain": ["lvl", "last"], "range": ["#2020f2", "#d4553f"]}, "legend": null}
      }
    },
    {
      "data": {"name": "lv"},
      "mark": {"type": "text", "color": "white", "fontSize": 10.5, "fontWeight": "bold", "align": "center", "baseline": "middle", "font": "Liberation Sans"},
      "encoding": {
        "x": {"datum": 191.35, "type": "quantitative", "title": null, "scale": {"domain": [-8.12, 188.1], "nice": false, "zero": false},
              "axis": {"values": [0,12,24,36,48,60,72,84,96,108,120,132,144,156,168,180]}},
        "y": {"field": "v", "type": "quantitative", "title": null, "scale": {"domain": [0.5783, 1.6421], "nice": false, "zero": false},
              "axis": {"values": [0.6,0.65,0.7,0.75,0.8,0.85,0.9,0.95,1.0,1.05,1.1,1.15,1.2,1.25,1.3,1.35,1.4,1.45,1.5,1.55,1.6], "labelExpr": "(abs(datum.value-1.15)<0.001 || abs(datum.value-1.25)<0.001 || abs(datum.value-1.6)<0.001) ? '' : datum.label"}},
        "text": {"field": "label", "type": "nominal"}
      }
    }
  ]
}
